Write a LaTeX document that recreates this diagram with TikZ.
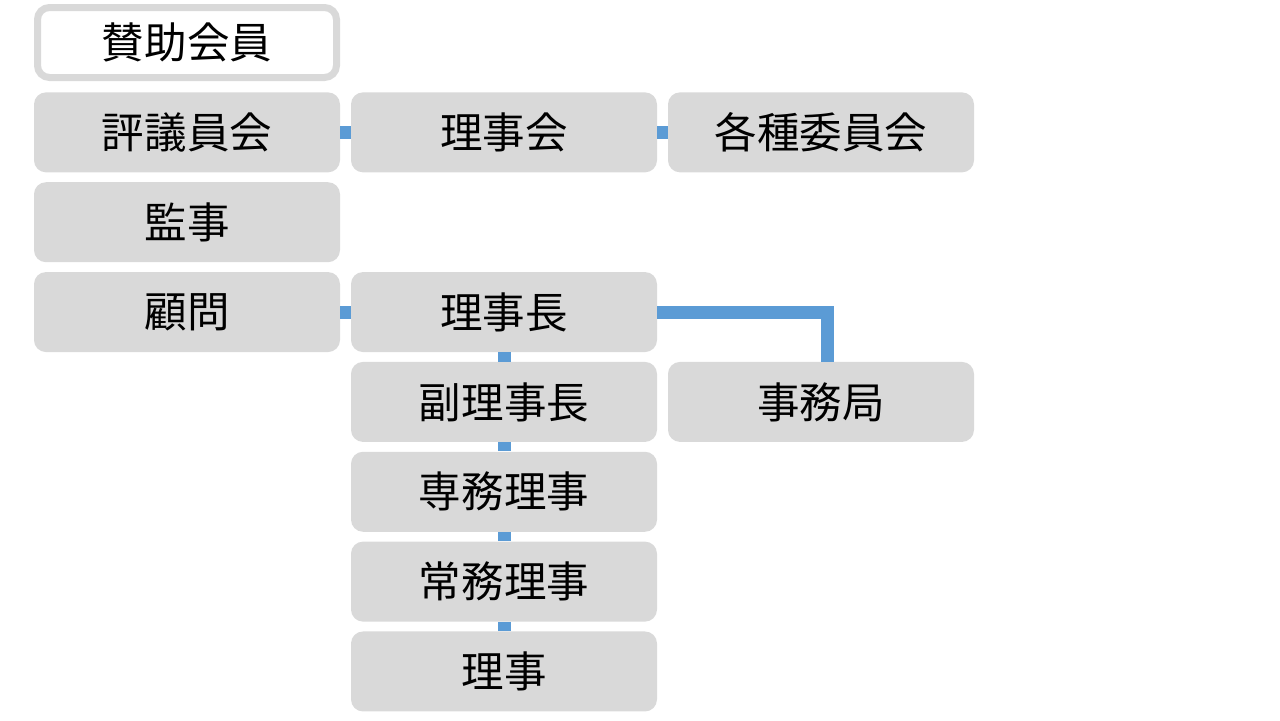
\documentclass[tikz,border=0pt]{standalone}
\usepackage{fontspec}
\usepackage{xcolor}
\usepackage{tikz}
\usetikzlibrary{positioning}
\newfontfamily\jpfont{Noto Sans CJK JP}
\definecolor{boxgray}{HTML}{D9D9D9}
\definecolor{linkblue}{HTML}{5B9BD5}

\begin{document}
\begin{tikzpicture}[node distance=1.797cm,on grid]
    \useasboundingbox (0,0) rectangle (25.6,-14.4);
    \tikzstyle{org_node}=[rounded corners=0.24cm,fill=boxgray,minimum width=6.12cm,minimum height=1.6cm,inner sep=0pt,font=\jpfont\fontsize{24.2pt}{26pt}\selectfont]
    \tikzstyle{org_link}=[draw=linkblue,line width=0.26cm]
    \node[org_node,fill=white,draw=boxgray,line width=0.14cm,minimum width=5.98cm,minimum height=1.4cm]  (sanjo) at (3.74,-0.85) {賛助会員};
    \node[org_node]  (hyogiin) [below=of sanjo]  {評議員会};
    \node[org_node]  (kanji)   [below=of hyogiin] {監事};
    \node[org_node]  (komon)   [below=of kanji]   {顧問};

    \node[org_node]  (rijikai) [right=6.34cm of hyogiin] {理事会};
    \node[org_node]  (iinkai)  [right=6.34cm of rijikai] {各種委員会};

    \node[org_node]  (richo)    [right=6.34cm of komon] {理事長};
    \node[org_node]  (fukuricho)[below=of richo]       {副理事長};
    \node[org_node]  (senmu)    [below=of fukuricho]   {専務理事};
    \node[org_node]  (jomu)     [below=of senmu]       {常務理事};
    \node[org_node]  (riji)     [below=of jomu]        {理事};

    \node[org_node]  (jimukyoku)[right=6.34cm of fukuricho] {事務局};

\path[org_link]
(hyogiin) -- (rijikai)
(rijikai) -- (iinkai)
(komon) -- (richo)
(richo) -- (fukuricho)
(fukuricho) -- (senmu)
(senmu) -- (jomu)
(jomu) -- (riji);
\draw[org_link] (richo.east) -| ([xshift=0.12cm]jimukyoku.north);

\end{tikzpicture}
\end{document}
